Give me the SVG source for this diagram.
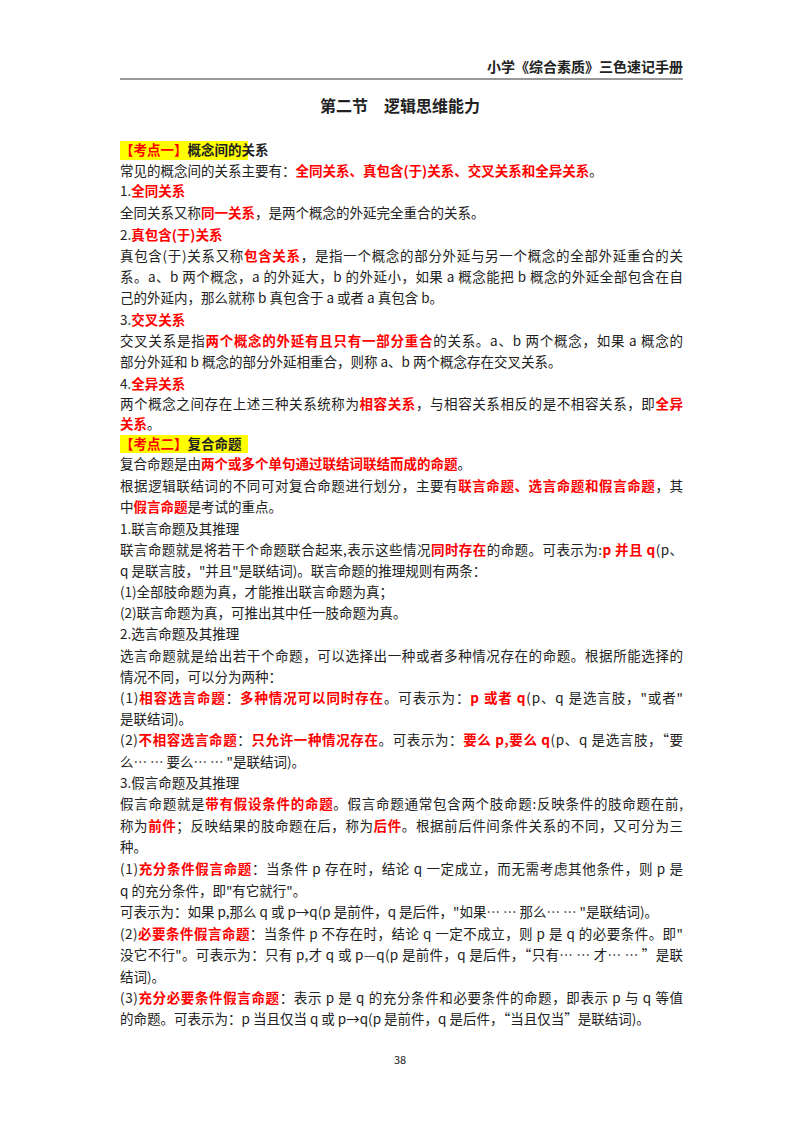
<svg xmlns="http://www.w3.org/2000/svg" width="800" height="1132" viewBox="0 0 800 1132">
<style>
text{font-family:"Noto Sans CJK SC","Liberation Serif",serif;font-size:13.5px;fill:#222}
.r{fill:#ff0000;font-weight:bold}
.b{font-weight:bold}
.h{fill:#ffff00}
</style>
<rect width="800" height="1132" fill="#fff"/>
<g id="header">
<text x="683" y="72" text-anchor="end" class="b" style="font-size:14px">小学《综合素质》三色速记手册</text>
<line x1="120" y1="79" x2="683" y2="79" stroke="#333" stroke-width="1"/>
<text x="400" y="112" text-anchor="middle" class="b" style="font-size:16px">第二节　逻辑思维能力</text>
</g>
<g id="body">
<rect class="h" x="120" y="141" width="128" height="19"/>
<text x="120" y="155"><tspan class="r">【考点一】</tspan><tspan class="b">概念间的关系</tspan></text>
<text x="120" y="176">常见的概念间的关系主要有：<tspan class="r">全同关系、真包含(于)关系、交叉关系和全异关系</tspan>。</text>
<text x="120" y="196">1.<tspan class="r">全同关系</tspan></text>
<text x="120" y="218">全同关系又称<tspan class="r">同一关系</tspan>，是两个概念的外延完全重合的关系。</text>
<text x="120" y="240">2.<tspan class="r">真包含(于)关系</tspan></text>
<text x="120" y="261" textLength="563" lengthAdjust="spacing">真包含(于)关系又称<tspan class="r">包含关系</tspan>，是指一个概念的部分外延与另一个概念的全部外延重合的关</text>
<text x="120" y="282" textLength="563" lengthAdjust="spacing">系。a、b 两个概念，a 的外延大，b 的外延小，如果 a 概念能把 b 概念的外延全部包含在自</text>
<text x="120" y="303">己的外延内，那么就称 b 真包含于 a 或者 a 真包含 b。</text>
<text x="120" y="325">3.<tspan class="r">交叉关系</tspan></text>
<text x="120" y="346" textLength="563" lengthAdjust="spacing">交叉关系是指<tspan class="r">两个概念的外延有且只有一部分重合</tspan>的关系。a、b 两个概念，如果 a 概念的</text>
<text x="120" y="367">部分外延和 b 概念的部分外延相重合，则称 a、b 两个概念存在交叉关系。</text>
<text x="120" y="389">4.<tspan class="r">全异关系</tspan></text>
<text x="120" y="409" textLength="563" lengthAdjust="spacing">两个概念之间存在上述三种关系统称为<tspan class="r">相容关系</tspan>，与相容关系相反的是不相容关系，即<tspan class="r">全异</tspan></text>
<text x="120" y="429"><tspan class="r">关系</tspan>。</text>
<rect class="h" x="120" y="435" width="128" height="18"/>
<text x="120" y="449"><tspan class="r">【考点二】</tspan><tspan class="b">复合命题</tspan></text>
<text x="120" y="469">复合命题是由<tspan class="r">两个或多个单句通过联结词联结而成的命题</tspan>。</text>
<text x="120" y="491" textLength="563" lengthAdjust="spacing">根据逻辑联结词的不同可对复合命题进行划分，主要有<tspan class="r">联言命题、选言命题和假言命题</tspan>，其</text>
<text x="120" y="512">中<tspan class="r">假言命题</tspan>是考试的重点。</text>
<text x="120" y="534">1.联言命题及其推理</text>
<text x="120" y="555" textLength="563" lengthAdjust="spacing">联言命题就是将若干个命题联合起来,表示这些情况<tspan class="r">同时存在</tspan>的命题。可表示为:<tspan class="r">p 并且 q</tspan>(p、</text>
<text x="120" y="576">q 是联言肢，"并且"是联结词)。联言命题的推理规则有两条：</text>
<text x="120" y="597">(1)全部肢命题为真，才能推出联言命题为真；</text>
<text x="120" y="618">(2)联言命题为真，可推出其中任一肢命题为真。</text>
<text x="120" y="639">2.选言命题及其推理</text>
<text x="120" y="661" textLength="563" lengthAdjust="spacing">选言命题就是给出若干个命题，可以选择出一种或者多种情况存在的命题。根据所能选择的</text>
<text x="120" y="682">情况不同，可以分为两种：</text>
<text x="120" y="703" textLength="563" lengthAdjust="spacing">(1)<tspan class="r">相容选言命题</tspan>：<tspan class="r">多种情况可以同时存在</tspan>。可表示为：<tspan class="r">p 或者 q</tspan>(p、q 是选言肢，"或者"</text>
<text x="120" y="724">是联结词)。</text>
<text x="120" y="745" textLength="563" lengthAdjust="spacing">(2)<tspan class="r">不相容选言命题</tspan>：<tspan class="r">只允许一种情况存在</tspan>。可表示为：<tspan class="r">要么 p,要么 q</tspan>(p、q 是选言肢，“要</text>
<text x="120" y="767">么… … 要么… … "是联结词)。</text>
<text x="120" y="788">3.假言命题及其推理</text>
<text x="120" y="809" textLength="563" lengthAdjust="spacing">假言命题就是<tspan class="r">带有假设条件的命题</tspan>。假言命题通常包含两个肢命题:反映条件的肢命题在前,</text>
<text x="120" y="831" textLength="563" lengthAdjust="spacing">称为<tspan class="r">前件</tspan>；反映结果的肢命题在后，称为<tspan class="r">后件</tspan>。根据前后件间条件关系的不同，又可分为三</text>
<text x="120" y="852">种。</text>
<text x="120" y="874" textLength="563" lengthAdjust="spacing">(1)<tspan class="r">充分条件假言命题</tspan>：当条件 p 存在时，结论 q 一定成立，而无需考虑其他条件，则 p 是</text>
<text x="120" y="896">q 的充分条件，即"有它就行"。</text>
<text x="120" y="917">可表示为：如果 p,那么 q 或 p→q(p 是前件，q 是后件，"如果… … 那么… … "是联结词)。</text>
<text x="120" y="939" textLength="563" lengthAdjust="spacing">(2)<tspan class="r">必要条件假言命题</tspan>：当条件 p 不存在时，结论 q 一定不成立，则 p 是 q 的必要条件。即"</text>
<text x="120" y="960" textLength="563" lengthAdjust="spacing">没它不行"。可表示为：只有 p,才 q 或 p—q(p 是前件，q 是后件，“只有… … 才… … ”是联</text>
<text x="120" y="982">结词)。</text>
<text x="120" y="1003" textLength="563" lengthAdjust="spacing">(3)<tspan class="r">充分必要条件假言命题</tspan>：表示 p 是 q 的充分条件和必要条件的命题，即表示 p 与 q 等值</text>
<text x="120" y="1024">的命题。可表示为：p 当且仅当 q 或 p→q(p 是前件，q 是后件，“当且仅当”是联结词)。</text>
<text x="400" y="1064" text-anchor="middle" style="font-size:11px">38</text>
</g>
</svg>
